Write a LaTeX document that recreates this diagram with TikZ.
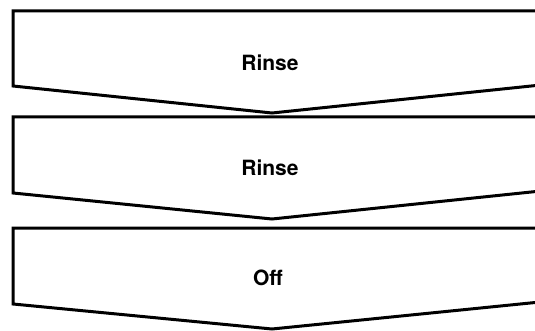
\documentclass[tikz,border=0pt]{standalone}
\usepackage{fontspec}
\setmainfont{TeX Gyre Heros}
\usepackage{tikz}
\usetikzlibrary{positioning}
\tikzset{stage/.style = {line width = 3pt, line join = miter},
  steplabel/.style = {font = \fontsize{21}{24}\selectfont\bfseries, inner sep = 0}}

\begin{document}
\begin{tikzpicture}[x=1pt, y=-1pt]
    \useasboundingbox (0, 0) rectangle (535, 331);
    \clip (0, 0) rectangle (535, 331);
    \begin{scope}[shift={(0, 11)}]
      \draw [stage] (560, 0) -- (13, 0) -- (13, 75) -- (272, 102) -- (560, 72);
      \node [steplabel] (rinseA) at (270, 52) {Rinse};
    \end{scope}
    \begin{scope}[shift={(0, 117)}]
      \draw [stage] (560, 0) -- (13, 0) -- (13, 76) -- (272, 102) -- (560, 72);
      \node [steplabel] (rinseB) at (270, 51) {Rinse};
    \end{scope}
    \begin{scope}[shift={(0, 228)}]
      \draw [stage] (560, 0) -- (13, 0) -- (13, 76) -- (272, 101) -- (560, 72);
      \node [steplabel] (off) at (268, 50) {Off};
    \end{scope}
  \end{tikzpicture}
\end{document}
